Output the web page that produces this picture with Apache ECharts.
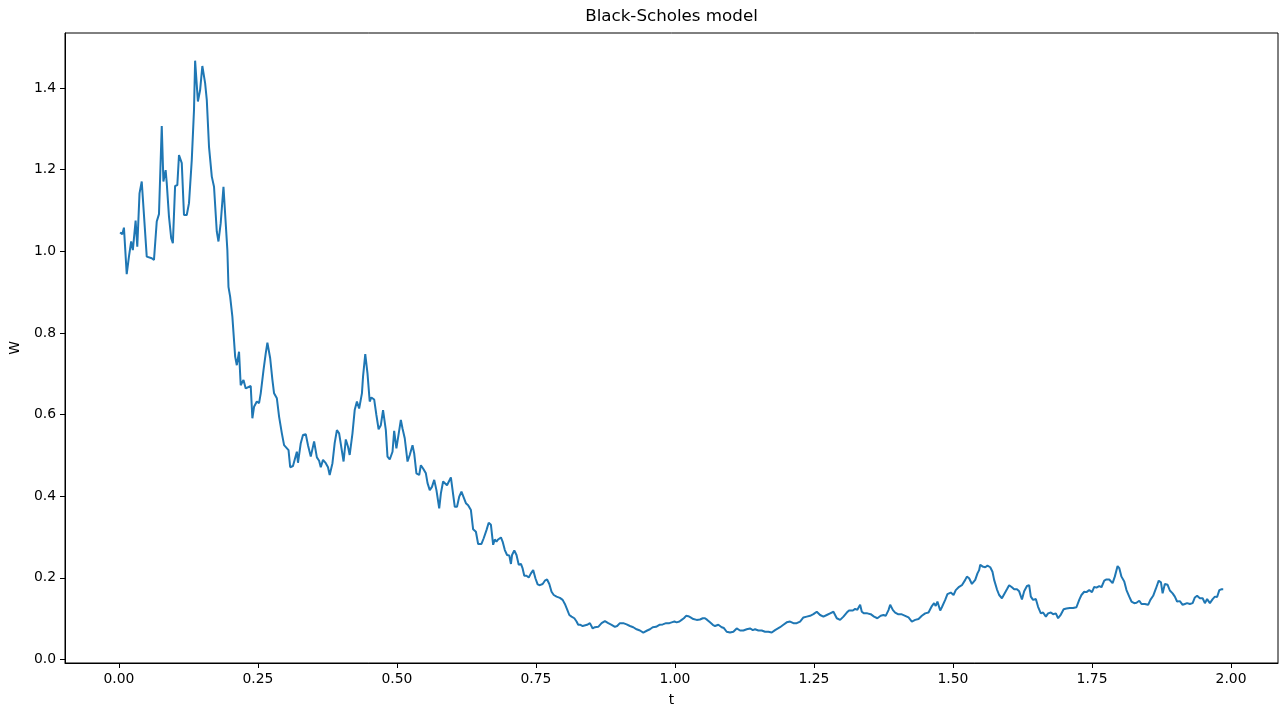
<!DOCTYPE html>
<html>
<head>
<meta charset="utf-8">
<script src="https://cdn.jsdelivr.net/npm/echarts@6/dist/echarts.min.js"></script>
<style>
html,body{margin:0;padding:0;background:#fff;}
#c{width:1285px;height:707px;}
</style>
</head>
<body>
<div id="c"></div>
<script>
const titleText = 'Black-Scholes model';
const xName = 't';
const yName = 'W';
const xTicks = [0, 0.25, 0.5, 0.75, 1.0, 1.25, 1.5, 1.75, 2.0];
const yTicks = [0, 0.2, 0.4, 0.6, 0.8, 1.0, 1.2, 1.4];

const tVals = [
0.002,0.006,0.009,0.014,0.018,0.022,0.025,0.030,0.033,0.037,0.041,0.050,0.059,0.063,0.068,0.072,0.077,0.080,0.084,0.086,
0.090,0.094,0.097,0.101,0.105,0.108,0.113,0.117,0.122,0.126,0.131,0.135,0.137,0.142,0.146,0.150,0.155,0.158,0.162,0.167,
0.171,0.176,0.179,0.183,0.188,0.195,0.197,0.200,0.204,0.209,0.212,0.216,0.219,0.224,0.228,0.237,0.240,0.243,0.248,0.252,
0.255,0.260,0.264,0.267,0.272,0.276,0.279,0.284,0.288,0.293,0.297,0.305,0.308,0.313,0.320,0.322,0.327,0.331,0.336,0.340,
0.345,0.351,0.356,0.360,0.363,0.367,0.372,0.376,0.379,0.384,0.388,0.392,0.396,0.399,0.404,0.408,0.412,0.415,0.420,0.424,
0.428,0.432,0.437,0.439,0.443,0.447,0.451,0.454,0.459,0.463,0.467,0.471,0.475,0.480,0.483,0.487,0.492,0.495,0.499,0.502,
0.507,0.510,0.514,0.519,0.523,0.528,0.531,0.535,0.540,0.543,0.547,0.552,0.555,0.559,0.563,0.567,0.571,0.576,0.579,0.583,
0.590,0.597,0.604,0.608,0.612,0.616,0.619,0.624,0.628,0.633,0.637,0.642,0.646,0.652,0.656,0.661,0.665,0.669,0.673,0.676,
0.679,0.682,0.687,0.690,0.694,0.698,0.702,0.705,0.707,0.711,0.715,0.719,0.723,0.726,0.729,0.733,0.737,0.741,0.745,0.749,
0.753,0.757,0.762,0.766,0.770,0.774,0.778,0.782,0.787,0.793,0.798,0.802,0.806,0.810,0.814,0.819,0.823,0.826,0.830,0.834,
0.837,0.842,0.847,0.852,0.856,0.862,0.868,0.874,0.880,0.886,0.892,0.896,0.901,0.907,0.913,0.919,0.925,0.931,0.937,0.943,
0.946,0.950,0.955,0.960,0.966,0.972,0.978,0.984,0.990,0.994,0.999,1.003,1.008,1.012,1.016,1.020,1.024,1.028,1.033,1.039,
1.045,1.050,1.054,1.058,1.063,1.068,1.072,1.078,1.084,1.088,1.093,1.099,1.105,1.111,1.117,1.123,1.129,1.135,1.140,1.144,
1.150,1.156,1.162,1.168,1.174,1.180,1.183,1.189,1.195,1.201,1.207,1.213,1.219,1.225,1.231,1.237,1.243,1.249,1.255,1.261,
1.267,1.273,1.279,1.285,1.291,1.297,1.303,1.309,1.313,1.320,1.324,1.328,1.333,1.336,1.340,1.346,1.352,1.358,1.364,1.370,
1.375,1.379,1.384,1.387,1.392,1.396,1.401,1.407,1.414,1.420,1.426,1.432,1.438,1.444,1.450,1.456,1.462,1.466,1.469,1.472,
1.477,1.480,1.486,1.490,1.496,1.501,1.505,1.511,1.516,1.522,1.525,1.529,1.534,1.540,1.544,1.547,1.549,1.553,1.558,1.562,
1.567,1.571,1.574,1.579,1.583,1.588,1.592,1.597,1.601,1.606,1.610,1.615,1.619,1.624,1.628,1.633,1.637,1.640,1.644,1.649,
1.653,1.658,1.662,1.667,1.671,1.676,1.680,1.685,1.689,1.694,1.699,1.704,1.710,1.716,1.722,1.727,1.731,1.736,1.740,1.745,
1.750,1.754,1.758,1.763,1.767,1.772,1.776,1.781,1.787,1.791,1.796,1.799,1.803,1.808,1.812,1.817,1.821,1.826,1.830,1.835,
1.839,1.845,1.851,1.855,1.860,1.865,1.870,1.874,1.877,1.881,1.886,1.890,1.895,1.899,1.903,1.908,1.913,1.917,1.921,1.926,
1.931,1.935,1.939,1.944,1.949,1.953,1.957,1.962,1.967,1.971,1.975,1.979,1.983,1.986
];
const wVals = [
1.046,1.042,1.058,0.944,0.987,1.024,1.003,1.075,1.011,1.142,1.171,0.987,0.983,0.979,1.073,1.091,1.307,1.171,1.199,1.167,
1.085,1.032,1.020,1.160,1.162,1.236,1.216,1.089,1.089,1.118,1.224,1.346,1.467,1.367,1.395,1.454,1.412,1.371,1.256,1.183,
1.158,1.048,1.024,1.069,1.158,1.003,0.913,0.889,0.840,0.742,0.721,0.754,0.672,0.685,0.664,0.670,0.591,0.619,0.632,0.628,
0.652,0.709,0.750,0.776,0.738,0.685,0.652,0.640,0.595,0.554,0.525,0.513,0.471,0.474,0.509,0.482,0.530,0.550,0.552,0.525,
0.497,0.534,0.495,0.487,0.471,0.489,0.481,0.471,0.452,0.481,0.530,0.562,0.554,0.558,0.485,0.539,0.521,0.501,0.554,0.611,
0.632,0.615,0.652,0.693,0.748,0.701,0.632,0.642,0.637,0.599,0.564,0.574,0.611,0.562,0.497,0.490,0.509,0.560,0.517,0.520,
0.587,0.566,0.542,0.485,0.501,0.525,0.505,0.456,0.452,0.476,0.468,0.456,0.432,0.415,0.423,0.440,0.415,0.370,0.407,0.436,
0.427,0.446,0.374,0.374,0.399,0.411,0.411,0.383,0.378,0.366,0.319,0.313,0.283,0.283,0.297,0.317,0.335,0.330,0.281,0.294,
0.289,0.294,0.299,0.289,0.268,0.256,0.255,0.234,0.256,0.267,0.256,0.232,0.234,0.223,0.205,0.205,0.201,0.211,0.219,0.199,
0.184,0.182,0.185,0.193,0.196,0.185,0.166,0.158,0.154,0.151,0.146,0.136,0.123,0.109,0.105,0.101,0.093,0.085,0.085,0.082,
0.080,0.085,0.089,0.076,0.079,0.080,0.089,0.094,0.089,0.085,0.080,0.082,0.089,0.089,0.086,0.082,0.079,0.074,0.071,0.066,
0.064,0.071,0.074,0.079,0.080,0.085,0.086,0.089,0.089,0.091,0.093,0.091,0.093,0.097,0.101,0.107,0.106,0.103,0.099,0.097,
0.098,0.101,0.101,0.097,0.091,0.085,0.082,0.085,0.079,0.077,0.068,0.066,0.068,0.076,0.071,0.071,0.074,0.076,0.072,0.074,
0.071,0.071,0.068,0.068,0.066,0.072,0.071,0.079,0.085,0.091,0.093,0.089,0.089,0.093,0.103,0.105,0.107,0.111,0.117,0.109,
0.105,0.109,0.113,0.117,0.101,0.097,0.105,0.115,0.120,0.120,0.124,0.122,0.134,0.117,0.113,0.113,0.111,0.105,0.101,0.107,
0.109,0.107,0.121,0.134,0.121,0.115,0.111,0.111,0.107,0.103,0.093,0.097,0.099,0.107,0.113,0.115,0.131,0.138,0.131,0.142,
0.120,0.128,0.146,0.160,0.164,0.158,0.170,0.178,0.182,0.195,0.203,0.199,0.185,0.195,0.211,0.219,0.232,0.228,0.226,0.230,
0.226,0.215,0.195,0.172,0.158,0.150,0.160,0.172,0.182,0.177,0.172,0.172,0.167,0.147,0.167,0.180,0.182,0.154,0.146,0.148,
0.129,0.113,0.115,0.105,0.113,0.115,0.111,0.113,0.101,0.110,0.123,0.125,0.126,0.126,0.128,0.146,0.158,0.166,0.165,0.170,
0.165,0.178,0.176,0.180,0.177,0.193,0.196,0.196,0.187,0.203,0.229,0.224,0.203,0.191,0.170,0.154,0.142,0.138,0.139,0.144,
0.136,0.136,0.134,0.146,0.156,0.174,0.193,0.189,0.162,0.185,0.183,0.169,0.162,0.154,0.142,0.143,0.134,0.136,0.138,0.136,
0.138,0.152,0.156,0.150,0.150,0.138,0.148,0.138,0.148,0.154,0.153,0.170,0.172,0.172
];

const pts = tVals.map((t, i) => [t, wVals[i]]);
const FONT = 'DejaVu Sans';

const chart = echarts.init(document.getElementById('c'), null, {renderer: 'canvas'});
chart.setOption({
  animation: false,
  backgroundColor: '#ffffff',
  grid: {left: 65, right: 7, top: 33, bottom: 44, containLabel: false, outerBoundsMode: 'none',
    show: true, borderColor: '#000', borderWidth: 1, backgroundColor: 'transparent'},
  graphic: [{
    type: 'text', x: 671.5, y: 17,
    style: {text: titleText, font: '16.7px "DejaVu Sans"', fill: '#000', textAlign: 'center', textVerticalAlign: 'middle'}
  }],
  xAxis: {
    type: 'value', min: -0.097, max: 2.0845,
    name: xName, nameLocation: 'middle', nameGap: 30,
    nameTextStyle: {fontFamily: FONT, fontSize: 13.9, color: '#000'},
    axisLine: {show: true, onZero: false, lineStyle: {color: '#000', width: 1}},
    axisTick: {show: true, length: 5, inside: false, customValues: xTicks, lineStyle: {color: '#000'}},
    axisLabel: {show: true, customValues: xTicks, margin: 9, fontFamily: FONT, fontSize: 13.9, color: '#000',
      formatter: v => v.toFixed(2)},
    splitLine: {show: false}
  },
  yAxis: {
    type: 'value', min: -0.0086, max: 1.5348,
    name: yName, nameLocation: 'middle', nameGap: 43, nameRotate: 90,
    nameTextStyle: {fontFamily: FONT, fontSize: 13.9, color: '#000'},
    axisLine: {show: true, onZero: false, lineStyle: {color: '#000', width: 1}},
    axisTick: {show: true, length: 5, inside: false, customValues: yTicks, lineStyle: {color: '#000'}},
    axisLabel: {show: true, customValues: yTicks, margin: 9, fontFamily: FONT, fontSize: 13.9, color: '#000',
      formatter: v => v.toFixed(1)},
    splitLine: {show: false}
  },
  series: [{
    type: 'line', data: pts, showSymbol: false, smooth: false,
    lineStyle: {color: '#1f77b4', width: 2}, itemStyle: {color: '#1f77b4'}
  }]
});
</script>
</body>
</html>
